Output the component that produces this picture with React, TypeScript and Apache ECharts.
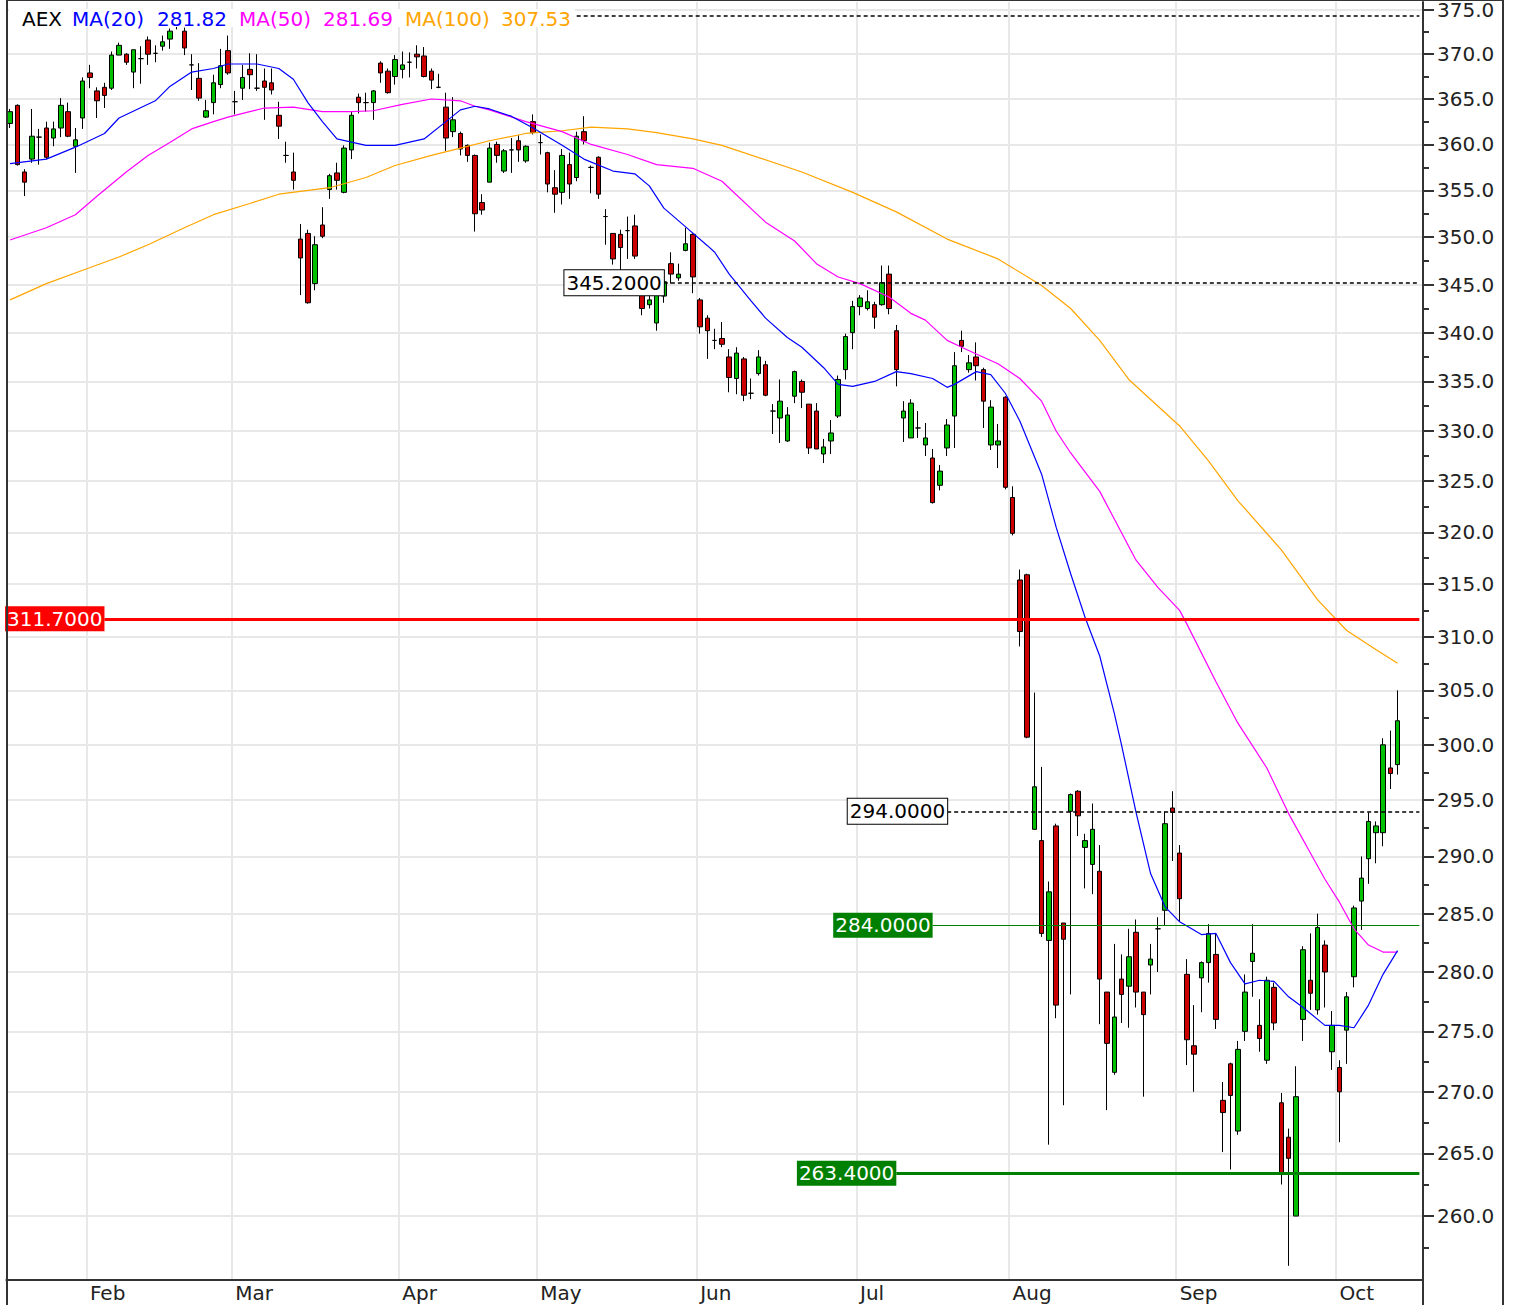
import React, { useEffect, useRef } from "react";
import * as echarts from "echarts";

const FONT = '"DejaVu Sans", Verdana, sans-serif';

// Trading days (x categories); last three are empty padding days on the right
const categories: string[] = [
  "2011-01-17","2011-01-18","2011-01-19","2011-01-20","2011-01-21","2011-01-24","2011-01-25","2011-01-26","2011-01-27","2011-01-28","2011-01-31",
  "2011-02-01","2011-02-02","2011-02-03","2011-02-04","2011-02-07","2011-02-08","2011-02-09","2011-02-10","2011-02-11","2011-02-14","2011-02-15","2011-02-16","2011-02-17","2011-02-18","2011-02-21","2011-02-22","2011-02-23","2011-02-24","2011-02-25","2011-02-28",
  "2011-03-01","2011-03-02","2011-03-03","2011-03-04","2011-03-07","2011-03-08","2011-03-09","2011-03-10","2011-03-11","2011-03-14","2011-03-15","2011-03-16","2011-03-17","2011-03-18","2011-03-21","2011-03-22","2011-03-23","2011-03-24","2011-03-25","2011-03-28","2011-03-29","2011-03-30","2011-03-31",
  "2011-04-01","2011-04-04","2011-04-05","2011-04-06","2011-04-07","2011-04-08","2011-04-11","2011-04-12","2011-04-13","2011-04-14","2011-04-15","2011-04-18","2011-04-19","2011-04-20","2011-04-21","2011-04-26","2011-04-27","2011-04-28","2011-04-29",
  "2011-05-02","2011-05-03","2011-05-04","2011-05-05","2011-05-06","2011-05-09","2011-05-10","2011-05-11","2011-05-12","2011-05-13","2011-05-16","2011-05-17","2011-05-18","2011-05-19","2011-05-20","2011-05-23","2011-05-24","2011-05-25","2011-05-26","2011-05-27","2011-05-30","2011-05-31",
  "2011-06-01","2011-06-02","2011-06-03","2011-06-06","2011-06-07","2011-06-08","2011-06-09","2011-06-10","2011-06-13","2011-06-14","2011-06-15","2011-06-16","2011-06-17","2011-06-20","2011-06-21","2011-06-22","2011-06-23","2011-06-24","2011-06-27","2011-06-28","2011-06-29","2011-06-30",
  "2011-07-01","2011-07-04","2011-07-05","2011-07-06","2011-07-07","2011-07-08","2011-07-11","2011-07-12","2011-07-13","2011-07-14","2011-07-15","2011-07-18","2011-07-19","2011-07-20","2011-07-21","2011-07-22","2011-07-25","2011-07-26","2011-07-27","2011-07-28","2011-07-29",
  "2011-08-01","2011-08-02","2011-08-03","2011-08-04","2011-08-05","2011-08-08","2011-08-09","2011-08-10","2011-08-11","2011-08-12","2011-08-15","2011-08-16","2011-08-17","2011-08-18","2011-08-19","2011-08-22","2011-08-23","2011-08-24","2011-08-25","2011-08-26","2011-08-29","2011-08-30","2011-08-31",
  "2011-09-01","2011-09-02","2011-09-05","2011-09-06","2011-09-07","2011-09-08","2011-09-09","2011-09-12","2011-09-13","2011-09-14","2011-09-15","2011-09-16","2011-09-19","2011-09-20","2011-09-21","2011-09-22","2011-09-23","2011-09-26","2011-09-27","2011-09-28","2011-09-29","2011-09-30",
  "2011-10-03","2011-10-04","2011-10-05","2011-10-06","2011-10-07","2011-10-10","2011-10-11","2011-10-12","2011-10-13",
  "2011-10-14","2011-10-17","2011-10-18",
];

// AEX daily candles: [open, close, low, high]
const candles: number[][] = [
  [362.3,363.6,361.8,363.9],[364.3,357.8,357.7,364.4],[357.0,355.9,354.4,357.3],[358.4,360.9,358.0,363.9],[360.8,360.8,357.8,361.7],
  [361.8,358.6,358.4,362.5],[360.7,361.7,359.8,362.5],[361.8,364.3,360.8,365.1],[363.6,360.9,360.8,364.6],[359.8,360.5,356.9,361.8],
  [362.9,367.0,361.7,367.4],[367.9,367.4,366.2,368.8],[365.9,364.8,362.9,366.3],[366.3,365.4,364.0,366.8],[366.2,369.9,366.0,370.3],
  [369.9,371.0,369.9,371.3],[370.0,369.1,368.8,370.1],[368.0,370.5,366.2,370.5],[369.5,369.5,366.7,370.9],[371.6,370.0,368.8,372.0],
  [370.1,370.1,369.1,371.0],[370.9,371.4,370.4,372.1],[371.7,372.6,370.6,372.9],[373.2,373.8,372.8,374.4],[372.6,370.7,369.9,373.0],
  [368.8,368.8,366.0,370.0],[367.3,365.1,364.8,369.0],[363.0,363.7,362.9,364.9],[364.6,366.8,363.3,367.7],[366.6,368.7,366.2,370.6],
  [370.4,367.9,367.7,372.1],[364.7,364.7,363.3,365.9],[366.2,367.4,364.9,368.8],[368.3,367.7,366.1,370.1],[366.2,366.2,365.9,370.0],
  [367.0,366.3,362.7,368.4],[366.8,366.0,365.5,368.4],[363.2,362.0,360.6,364.7],[358.8,358.8,358.0,360.3],[357.0,356.1,355.1,359.1],
  [349.8,347.8,343.9,351.4],[350.4,343.1,343.0,350.8],[345.1,349.2,344.4,350.1],[351.3,350.1,349.9,353.2],[355.1,356.6,354.1,356.8],
  [356.9,356.1,355.1,358.0],[354.8,359.6,354.7,359.9],[359.4,363.2,358.4,363.6],[365.2,364.6,363.4,365.6],[364.6,364.6,363.6,365.7],
  [364.6,365.9,362.7,366.0],[369.0,367.9,366.8,369.2],[368.1,365.7,365.6,368.4],[367.5,369.4,366.6,369.9],[368.3,368.8,367.3,370.3],
  [369.1,369.1,367.4,370.2],[370.0,369.7,368.4,371.0],[369.8,367.5,367.4,370.8],[368.1,367.1,366.1,368.4],[366.3,366.3,366.2,367.8],
  [364.1,360.7,359.3,365.7],[361.4,362.7,360.8,365.2],[361.2,359.5,358.8,361.4],[359.9,358.8,358.1,360.0],[358.8,352.5,350.6,358.9],
  [353.7,352.9,352.4,354.6],[355.9,359.6,355.9,360.2],[360.0,358.8,358.0,360.3],[357.1,359.3,356.9,359.5],[359.4,359.4,356.9,360.7],
  [360.4,359.4,358.1,361.0],[358.2,359.8,358.0,359.9],[362.5,361.3,361.1,363.3],[360.2,360.2,358.9,361.1],[359.1,355.7,354.8,359.2],
  [355.3,354.6,352.6,357.2],[354.8,358.8,353.5,359.5],[357.8,355.7,354.1,359.1],[356.4,360.9,356.0,361.4],[361.4,360.4,360.0,363.1],
  [357.5,357.5,354.7,357.7],[358.6,354.6,354.1,358.7],[352.2,352.2,349.2,353.0],[350.4,347.7,347.1,350.4],[350.3,348.9,346.1,350.8],
  [350.7,350.7,347.7,352.2],[351.2,348.0,347.7,352.4],[344.0,342.5,341.8,345.2],[342.9,343.4,342.5,344.0],[341.0,344.0,340.2,345.2],
  [343.8,345.3,343.1,346.5],[347.2,346.1,345.1,348.4],[345.7,346.1,345.4,347.2],[348.6,349.3,348.5,351.0],[350.3,345.8,344.1,350.4],
  [343.4,340.6,339.9,343.6],[341.5,340.2,337.3,341.8],[339.2,339.2,338.3,340.4],[339.4,338.8,338.5,341.1],[337.5,335.4,333.9,338.3],
  [335.3,337.9,333.7,338.5],[337.3,333.6,333.0,337.5],[333.8,333.8,333.2,335.3],[335.8,337.5,335.6,338.2],[336.7,333.6,333.5,337.1],
  [332.0,332.0,329.7,332.7],[331.3,333.0,328.8,335.2],[329.0,331.6,328.9,332.4],[333.5,336.0,332.8,336.1],[335.0,333.9,332.3,335.2],
  [332.7,328.3,327.7,332.7],[332.0,328.2,328.2,332.8],[327.7,328.4,326.8,329.2],[329.0,329.8,327.7,331.1],[331.5,335.2,331.3,335.6],
  [336.2,339.6,335.2,339.9],[340.0,342.7,338.3,343.3],[342.7,343.6,341.8,343.9],[342.5,343.2,342.3,344.4],[342.9,341.6,340.4,343.2],
  [342.9,345.2,342.8,347.0],[346.1,342.5,341.9,347.0],[340.2,336.2,334.5,340.8],[331.3,332.0,328.9,333.0],[329.3,332.8,329.3,333.2],
  [330.3,330.3,329.3,332.0],[328.6,329.3,327.5,330.8],[327.3,322.9,322.8,328.2],[324.6,326.0,324.1,326.6],[328.3,330.6,327.5,331.2],
  [331.5,336.6,328.3,338.0],[339.2,338.6,338.0,340.2],[336.2,336.9,335.9,337.7],[337.5,336.6,335.1,339.0],[336.2,333.0,330.3,336.4],
  [328.6,332.4,328.1,333.1],[328.6,329.0,326.3,330.7],[333.4,324.4,324.2,333.5],[323.4,319.9,319.7,324.5],[315.4,310.5,309.1,316.4],
  [315.9,300.7,300.6,316.0],[292.4,296.2,292.4,304.8],[291.4,283.3,283.0,298.0],[282.7,286.9,265.7,287.8],[292.7,277.2,276.1,292.9],
  [284.2,282.8,268.9,284.2],[294.0,295.5,278.1,295.6],[295.8,293.6,291.8,295.9],[290.8,291.4,287.2,292.0],[289.3,292.4,286.7,294.7],
  [288.7,279.4,275.6,291.0],[278.3,274.0,268.5,278.3],[271.6,276.2,271.4,282.4],[279.4,278.1,275.7,281.5],[278.8,281.3,275.3,283.7],
  [283.4,278.3,277.0,284.5],[278.3,276.4,269.6,278.3],[280.6,281.1,278.1,282.4],[283.7,283.7,280.0,284.7],[285.3,292.9,284.0,294.0],
  [294.3,293.9,289.6,295.8],[290.3,286.3,284.3,291.0],[279.8,274.3,272.2,281.1],[273.8,273.1,270.0,277.2],[279.5,280.8,276.6,280.9],
  [280.8,283.3,279.1,284.1],[281.5,276.0,275.2,283.3],[269.3,268.3,265.1,270.8],[272.3,269.7,263.7,272.4],[266.8,273.5,266.5,274.2],
  [275.0,278.3,274.2,279.8],[280.9,281.6,277.9,284.1],[275.5,274.4,273.3,277.7],[272.6,279.3,272.3,279.6],[278.7,275.7,275.1,279.1],
  [269.1,263.3,262.5,269.9],[266.3,264.6,256.1,267.0],[260.0,269.6,260.0,272.1],[276.0,281.9,274.2,282.2],[279.3,278.2,276.8,283.3],
  [276.8,283.8,276.4,285.0],[282.3,280.0,277.0,282.7],[273.3,275.5,271.8,276.7],[272.0,270.0,265.9,272.6],[275.1,277.9,272.3,278.3],
  [279.6,285.5,278.7,285.7],[286.1,288.1,283.6,290.0],[289.8,293.1,287.6,293.9],[292.1,292.7,289.4,293.1],[292.1,300.0,290.9,300.6],
  [297.9,297.4,296.0,301.3],[298.2,302.2,297.3,305.0],
];

// Moving averages: [day index, value]
const ma20Points: [number, number][] = [
  [0,357.9],[5,358.4],[9,359.7],[13,361.2],[15,362.9],[20,364.8],[22,366.4],[25,368.0],[28,368.4],[30,368.9],[34,368.9],
  [37,368.4],[39,367.2],[41,364.6],[43,362.5],[45,360.6],[49,359.9],[53,359.9],[57,360.6],[60,362.5],[62,363.8],[64,364.2],
  [66,363.9],[69,363.1],[72,361.8],[76,359.9],[79,358.4],[83,357.1],[86,356.8],[88,355.5],[90,353.1],[93,351.1],[96,349.1],
  [97,348.4],[99,346.1],[102,343.3],[104,341.5],[107,339.5],[109,338.5],[112,336.4],[114,334.7],[116,334.5],[119,335.0],
  [122,336.0],[124,335.8],[127,335.3],[129,334.4],[130,334.7],[133,336.0],[135,335.7],[137,333.8],[139,331.0],[142,325.7],
  [144,320.5],[146,316.0],[148,311.8],[150,308.2],[152,302.9],[153,300.0],[155,293.9],[157,288.5],[159,285.6],[161,284.3],
  [164,283.2],[166,283.3],[168,280.8],[170,279.0],[172,279.3],[174,279.2],[176,277.9],[178,277.0],[181,275.5],[183,275.5],
  [185,275.3],[187,277.2],[189,279.8],[191,281.82],
];
const ma50Points: [number, number][] = [
  [0,349.7],[5,351.0],[9,352.4],[12,354.4],[16,357.0],[19,358.8],[22,360.2],[25,361.7],[28,362.5],[30,363.0],[33,363.6],
  [35,364.0],[39,364.1],[43,363.6],[47,363.6],[50,363.7],[54,364.4],[58,365.0],[62,364.8],[64,364.2],[66,363.8],[71,362.5],
  [76,361.4],[80,360.0],[85,358.9],[89,357.8],[94,357.4],[98,356.0],[104,351.6],[108,349.6],[111,347.2],[114,345.8],
  [117,345.1],[121,343.7],[124,342.0],[126,341.3],[129,339.2],[131,338.5],[133,337.8],[136,336.8],[139,335.3],[142,333.0],
  [144,330.0],[146,327.8],[150,324.0],[155,317.3],[158,314.7],[161,312.5],[162,311.2],[166,305.8],[169,302.0],[173,297.9],
  [176,293.8],[179,290.3],[181,288.0],[183,286.0],[185,283.7],[187,282.3],[189,281.7],[191,281.69],
];
const ma100Points: [number, number][] = [
  [0,343.4],[5,345.1],[10,346.5],[15,347.9],[19,349.2],[24,351.0],[28,352.4],[33,353.6],[37,354.6],[44,355.3],[49,356.4],
  [53,357.7],[58,358.8],[62,359.6],[66,360.4],[71,361.2],[76,361.5],[80,361.9],[85,361.7],[89,361.3],[94,360.6],[98,359.9],
  [109,357.0],[116,354.8],[122,352.7],[129,349.8],[136,347.7],[142,344.9],[146,342.5],[150,339.2],[154,335.2],[161,330.5],
  [165,327.0],[169,323.1],[175,318.3],[180,313.5],[184,310.6],[188,308.8],[191,307.53],
];

// Horizontal price levels: value, first day index of the line, style
const levelValues = [374.3, 345.2, 311.7, 294.0, 284.0, 263.4];
const levelStart = [78, 90, 13, 129, 127, 122];
const levelKinds = ["dash", "dashLabel", "red", "dashLabel", "greenThin", "greenThick"];

const yMajorTicks = [260, 265, 270, 275, 280, 285, 290, 295, 300, 305, 310, 315, 320, 325, 330, 335, 340, 345, 350, 355, 360, 365, 370, 375];
const yMinorTicks = [257.5, 262.5, 267.5, 272.5, 277.5, 282.5, 287.5, 292.5, 297.5, 302.5, 307.5, 312.5, 317.5, 322.5, 327.5, 332.5, 337.5, 342.5, 347.5, 352.5, 357.5, 362.5, 367.5, 372.5];
const Y_MIN = 255.0;
const Y_MAX = 375.9;

const MONTHS = ["Jan", "Feb", "Mar", "Apr", "May", "Jun", "Jul", "Aug", "Sep", "Oct", "Nov", "Dec"];

const isMonthStart = (index: number) =>
  index > 0 && categories[index].slice(5, 7) !== categories[index - 1].slice(5, 7);

function levelLine(value: number, start: number, kind: string) {
  const lastIdx = categories.length - 1;
  let lineStyle: any = { color: "#000", width: 1.5, type: [4, 3] };
  let label: any = { show: false };
  const baseLabel = {
    show: true,
    position: "start",
    distance: 0,
    formatter: value.toFixed(4),
    fontSize: 20,
    fontFamily: FONT,
    lineHeight: 22,
    padding: [2, 2, 1, 2],
  };
  if (kind === "dashLabel") {
    label = { ...baseLabel, color: "#000", backgroundColor: "#fff", borderColor: "#000", borderWidth: 1 };
  } else if (kind === "red") {
    lineStyle = { color: "#ff0000", width: 3, type: "solid" };
    label = { ...baseLabel, color: "#fff", backgroundColor: "#ff0000" };
  } else if (kind === "greenThin") {
    lineStyle = { color: "#008000", width: 1.2, type: "solid" };
    label = { ...baseLabel, color: "#fff", backgroundColor: "#008000" };
  } else if (kind === "greenThick") {
    lineStyle = { color: "#008000", width: 3, type: "solid" };
    label = { ...baseLabel, color: "#fff", backgroundColor: "#008000" };
  }
  return [
    { coord: [categories[start], Math.log(value)], lineStyle, label },
    { coord: [categories[lastIdx], Math.log(value)] },
  ];
}

const maSeries = (name: string, pts: [number, number][], color: string) => ({
  name,
  type: "line",
  data: pts.map(([i, v]) => [categories[i], Math.log(v)]),
  showSymbol: false,
  symbol: "none",
  smooth: false,
  lineStyle: { color, width: 1.2 },
  z: 4,
  silent: true,
});

export default function App() {
  const ref = useRef<HTMLDivElement>(null);
  useEffect(() => {
    document.body.style.margin = "0";
    if (!ref.current) return;
    const chart = echarts.init(ref.current, undefined, { renderer: "svg" });
    const logMin = Math.log(Y_MIN);
    const logMax = Math.log(Y_MAX);
    const legendItems = [
      { text: "AEX", x: 22, color: "#000" },
      { text: "MA(20)", x: 72, color: "#0000ff" },
      { text: ma20Points[ma20Points.length - 1][1].toFixed(2), x: 157, color: "#0000ff" },
      { text: "MA(50)", x: 239, color: "#ff00ff" },
      { text: ma50Points[ma50Points.length - 1][1].toFixed(2), x: 323, color: "#ff00ff" },
      { text: "MA(100)", x: 405, color: "#ffa500" },
      { text: ma100Points[ma100Points.length - 1][1].toFixed(2), x: 501, color: "#ffa500" },
    ];
    const option: any = {
      animation: false,
      backgroundColor: "#fff",
      grid: { left: 6.4, right: 90, top: 0, bottom: 25, containLabel: false },
      xAxis: {
        type: "category",
        data: categories,
        boundaryGap: true,
        axisLine: { show: true, onZero: false, lineStyle: { color: "#333", width: 2 } },
        axisTick: { show: false },
        axisLabel: {
          interval: (index: number) => isMonthStart(index),
          formatter: (value: string) => MONTHS[parseInt(value.slice(5, 7), 10) - 1],
          align: "left",
          margin: 3,
          fontSize: 20,
          lineHeight: 20,
          fontFamily: FONT,
          color: "#222",
        },
        splitLine: {
          show: true,
          interval: (index: number) => isMonthStart(index),
          lineStyle: { color: "#e8e8e8", width: 2 },
        },
      },
      yAxis: [
        {
          type: "value",
          position: "right",
          min: logMin,
          max: logMax,
          scale: true,
          axisLine: { show: true, lineStyle: { color: "#333", width: 2 } },
          axisTick: {
            show: true,
            inside: false,
            length: 11,
            lineStyle: { color: "#333", width: 2 },
            customValues: yMajorTicks.map((v) => Math.log(v)),
          },
          axisLabel: {
            customValues: yMajorTicks.map((v) => Math.log(v)),
            formatter: (v: number) => Math.exp(v).toFixed(1),
            margin: 14,
            fontSize: 20,
            fontFamily: FONT,
            color: "#222",
          },
          splitLine: { show: true, lineStyle: { color: "#e8e8e8", width: 2 } },
        },
        {
          type: "value",
          position: "right",
          min: logMin,
          max: logMax,
          scale: true,
          axisLine: { show: false },
          axisTick: {
            show: true,
            inside: false,
            length: 6,
            lineStyle: { color: "#333", width: 2 },
            customValues: yMinorTicks.map((v) => Math.log(v)),
          },
          axisLabel: { show: false },
          splitLine: { show: false },
        },
      ],
      series: [
        {
          name: "AEX",
          type: "candlestick",
          data: candles.map((c) => c.map((v) => Math.log(v))),
          barWidth: 5,
          z: 3,
          silent: true,
          itemStyle: {
            color: "#00c000",
            color0: "#cc0000",
            borderColor: "#000",
            borderColor0: "#000",
            borderColorDoji: "#000",
            borderWidth: 1,
          },
        },
        maSeries("MA(100)", ma100Points, "#ffa500"),
        maSeries("MA(50)", ma50Points, "#ff00ff"),
        maSeries("MA(20)", ma20Points, "#0000ff"),
        {
          name: "levels",
          type: "line",
          data: [],
          z: 5,
          markLine: {
            silent: true,
            symbol: ["none", "none"],
            animation: false,
            data: levelValues.map((v, k) => levelLine(v, levelStart[k], levelKinds[k])),
          },
        },
      ],
      graphic: [
        { type: "rect", shape: { x: 9, y: 9, width: 566, height: 18 }, style: { fill: "#fff" }, z: 10 },
        ...legendItems.map((it) => ({
          type: "text",
          x: it.x,
          y: 19,
          z: 11,
          style: { text: it.text, fill: it.color, fontSize: 20, fontFamily: FONT, verticalAlign: "middle" },
        })),
        { type: "line", shape: { x1: 7, y1: 0, x2: 7, y2: 1305 }, style: { stroke: "#333", lineWidth: 2 }, z: 12 },
        { type: "line", shape: { x1: 1503, y1: 0, x2: 1503, y2: 1305 }, style: { stroke: "#333", lineWidth: 2 }, z: 12 },
        { type: "line", shape: { x1: 7, y1: 0.5, x2: 1503, y2: 0.5 }, style: { stroke: "#333", lineWidth: 1 }, z: 12 },
        { type: "line", shape: { x1: 1423, y1: 1280, x2: 1423, y2: 1305 }, style: { stroke: "#333", lineWidth: 2 }, z: 12 },
      ],
    };
    chart.setOption(option);
    return () => chart.dispose();
  }, []);
  return <div ref={ref} style={{ width: 1513, height: 1305 }} />;
}
